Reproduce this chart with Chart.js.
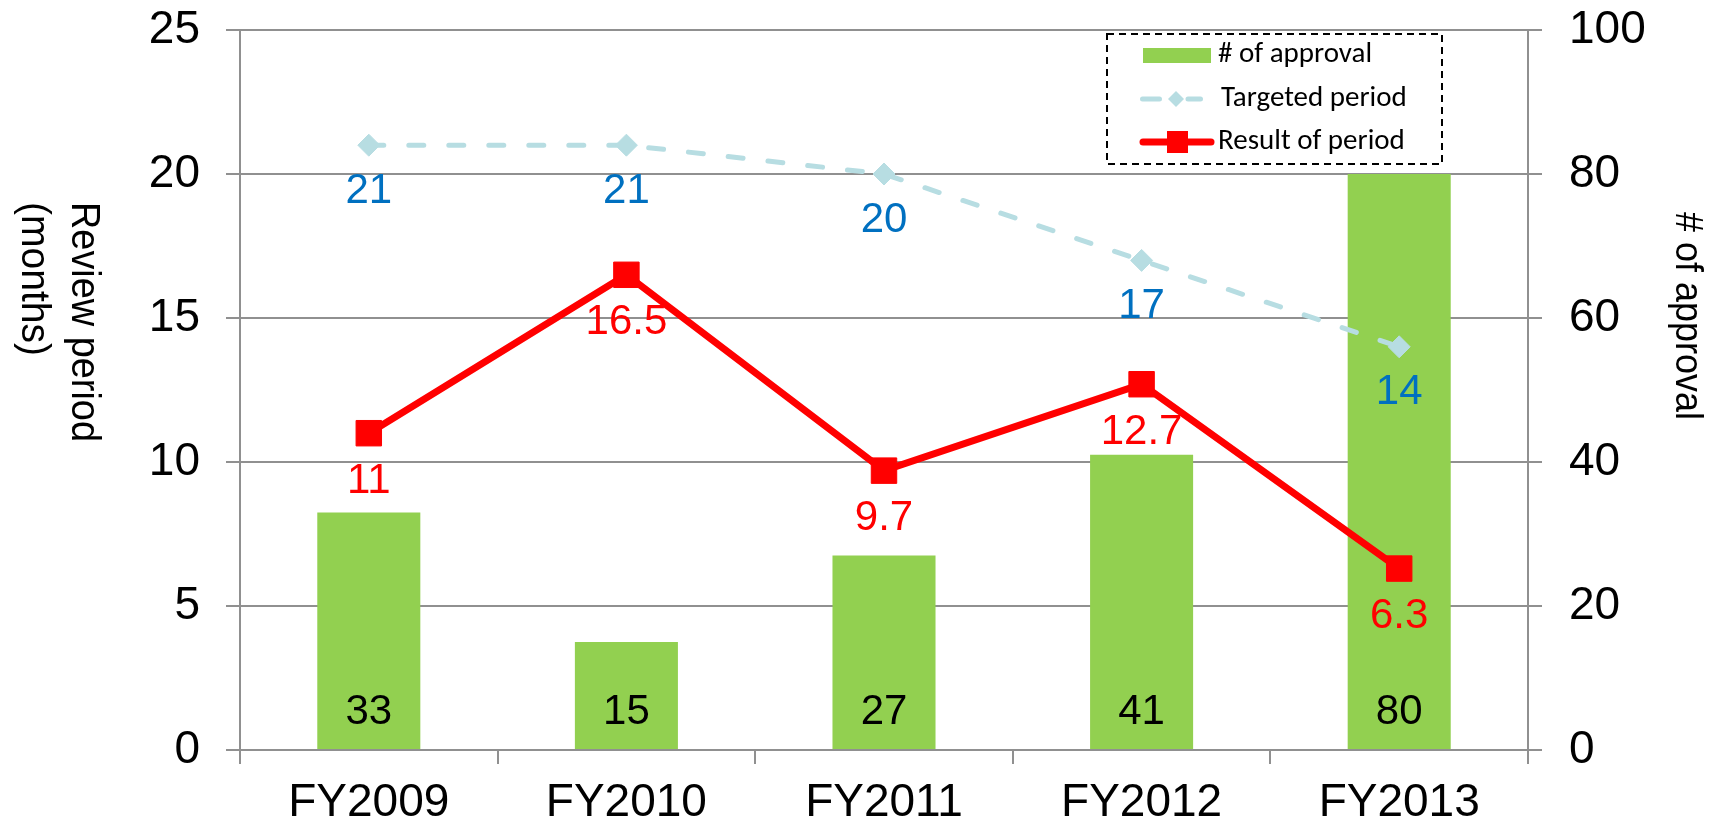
<!DOCTYPE html>
<html><head><meta charset="utf-8">
<script src="https://cdn.jsdelivr.net/npm/chart.js@4"></script>
<style>html,body{margin:0;padding:0;background:#fff;overflow:hidden}canvas{display:block}</style>
</head><body>
<canvas id="c" width="1714" height="826"></canvas>
<script>
const categories = ['FY2009', 'FY2010', 'FY2011', 'FY2012', 'FY2013'];
const approvals = [33, 15, 27, 41, 80];
const targetedPeriod = [21, 21, 20, 17, 14];
const resultPeriod = [11, 16.5, 9.7, 12.7, 6.3];
const leftTicks = [0, 5, 10, 15, 20, 25];
const rightTicks = [0, 20, 40, 60, 80, 100];
const leftTitle = ['Review period', '(months)'];
const rightTitle = '# of approval';
const seriesNames = ['# of approval', 'Targeted period', 'Result of period'];

const GRID = '#909090';
const GREEN = '#92D050';
const LIGHTBLUE = '#B7DDE2';
const RED = '#FF0000';
const BLUE = '#0070C0';
const ARIAL = '"Liberation Sans", Arial, sans-serif';
const CALIBRI = 'Carlito, Lato, "Open Sans", sans-serif';

const labelsPlugin = {
  id: 'valueLabels',
  afterDatasetsDraw(chart) {
    const ctx = chart.ctx;
    ctx.save();
    ctx.font = '42px ' + ARIAL;
    ctx.textAlign = 'center';
    ctx.textBaseline = 'middle';
    chart.data.datasets.forEach((ds, i) => {
      const meta = chart.getDatasetMeta(i);
      meta.data.forEach((el, j) => {
        const v = ds.data[j];
        const y = ds.type === 'bar' ? el.base - 37 : el.y + ds.labelOffset;
        ctx.fillStyle = ds.labelColor;
        ctx.fillText(String(v), el.x, y);
      });
    });
    ctx.restore();
  }
};

const decorPlugin = {
  id: 'decor',
  afterDraw(chart) {
    const ctx = chart.ctx;
    const ds = chart.data.datasets;
    // axis titles (rotated clockwise)
    ctx.save();
    ctx.fillStyle = '#000';
    ctx.textAlign = 'left';
    ctx.textBaseline = 'middle';
    ctx.font = '40px ' + ARIAL;
    ctx.translate(83, 202);
    ctx.rotate(Math.PI / 2);
    ctx.fillText(leftTitle[0], 0, 0, 240);
    ctx.fillText(leftTitle[1], 0, 50, 154);
    ctx.restore();

    ctx.save();
    ctx.fillStyle = '#000';
    ctx.textAlign = 'left';
    ctx.textBaseline = 'middle';
    ctx.font = '38px ' + ARIAL;
    ctx.translate(1686, 212);
    ctx.rotate(Math.PI / 2);
    ctx.fillText(rightTitle, 0, 0, 208);
    ctx.restore();

    // legend
    ctx.save();
    ctx.fillStyle = '#fff';
    ctx.fillRect(1107, 34, 335, 130);
    ctx.strokeStyle = '#000';
    ctx.lineWidth = 2;
    ctx.setLineDash([7, 5]);
    ctx.strokeRect(1107, 34, 335, 130);
    ctx.setLineDash([]);
    // item 1: bar swatch
    ctx.fillStyle = ds[0].backgroundColor;
    ctx.fillRect(1143, 48, 68, 15);
    // item 2: dashed line + diamond
    ctx.strokeStyle = ds[1].borderColor;
    ctx.lineWidth = 5;
    ctx.lineCap = 'round';
    ctx.beginPath();
    ctx.moveTo(1142.5, 99); ctx.lineTo(1159.5, 99);
    ctx.moveTo(1188, 99); ctx.lineTo(1200.5, 99);
    ctx.stroke();
    ctx.fillStyle = ds[1].pointBackgroundColor;
    ctx.beginPath();
    ctx.moveTo(1176, 91); ctx.lineTo(1184, 99); ctx.lineTo(1176, 107); ctx.lineTo(1168, 99);
    ctx.closePath();
    ctx.fill();
    // item 3: red line + square
    ctx.strokeStyle = ds[2].borderColor;
    ctx.lineWidth = 7;
    ctx.beginPath();
    ctx.moveTo(1143, 142); ctx.lineTo(1211, 142);
    ctx.stroke();
    ctx.fillStyle = ds[2].borderColor;
    ctx.fillRect(1167, 131, 21, 22);
    // texts
    ctx.fillStyle = '#000';
    ctx.textAlign = 'left';
    ctx.textBaseline = 'middle';
    ctx.font = '29px ' + CALIBRI;
    ctx.fillText(seriesNames[0], 1218, 55, 155);
    ctx.fillText(seriesNames[1], 1221, 99, 186);
    ctx.fillText(seriesNames[2], 1218, 142, 187);
    ctx.restore();
  }
};

const tickFont = { family: ARIAL, size: 46 };

new Chart(document.getElementById('c'), {
  data: {
    labels: categories,
    datasets: [
      {
        type: 'bar', label: seriesNames[0], data: approvals, yAxisID: 'y1',
        backgroundColor: GREEN, borderWidth: 0,
        barPercentage: 0.4, categoryPercentage: 1.0,
        order: 3, labelColor: '#000'
      },
      {
        type: 'line', label: seriesNames[1], data: targetedPeriod, yAxisID: 'y',
        borderColor: LIGHTBLUE, backgroundColor: LIGHTBLUE, borderWidth: 5,
        borderDash: [15, 25], borderCapStyle: 'round',
        pointStyle: 'rectRot', pointRadius: 11, pointBorderWidth: 1,
        pointBackgroundColor: LIGHTBLUE, pointBorderColor: LIGHTBLUE,
        tension: 0, fill: false,
        order: 2, labelColor: BLUE, labelOffset: 46
      },
      {
        type: 'line', label: seriesNames[2], data: resultPeriod, yAxisID: 'y',
        borderColor: RED, backgroundColor: RED, borderWidth: 7,
        pointStyle: 'rect', pointRadius: 18, pointBorderWidth: 1,
        pointBackgroundColor: RED, pointBorderColor: RED,
        tension: 0, fill: false,
        order: 1, labelColor: RED, labelOffset: 48
      }
    ]
  },
  options: {
    responsive: false,
    animation: false,
    devicePixelRatio: 1,
    events: [],
    layout: { padding: { top: 30, left: 0, right: 0, bottom: 0 } },
    plugins: { legend: { display: false }, tooltip: { enabled: false } },
    scales: {
      x: {
        type: 'category',
        offset: true,
        grid: { offset: true, drawOnChartArea: false, drawTicks: true, tickLength: 14, color: GRID, lineWidth: 2 },
        border: { color: GRID, width: 2 },
        ticks: { font: tickFont, color: '#000', padding: 12, maxRotation: 0, autoSkip: false },
        afterFit(s) { s.height = 76; s.paddingLeft = 0; s.paddingRight = 0; }
      },
      y: {
        position: 'left',
        min: leftTicks[0], max: leftTicks[leftTicks.length - 1],
        afterBuildTicks(s) { s.ticks = leftTicks.map(v => ({ value: v })); },
        grid: { color: GRID, lineWidth: 2, tickLength: 14, drawTicks: true },
        border: { color: GRID, width: 2 },
        ticks: { font: tickFont, color: '#000', padding: 26 },
        afterFit(s) { s.width = 240; s.paddingTop = 0; s.paddingBottom = 0; }
      },
      y1: {
        position: 'right',
        min: rightTicks[0], max: rightTicks[rightTicks.length - 1],
        afterBuildTicks(s) { s.ticks = rightTicks.map(v => ({ value: v })); },
        grid: { drawOnChartArea: false, color: GRID, lineWidth: 2, tickLength: 14, drawTicks: true },
        border: { color: GRID, width: 2 },
        ticks: { font: tickFont, color: '#000', padding: 27 },
        afterFit(s) { s.width = 186; s.paddingTop = 0; s.paddingBottom = 0; }
      }
    }
  },
  plugins: [labelsPlugin, decorPlugin]
});
</script>
</body></html>
